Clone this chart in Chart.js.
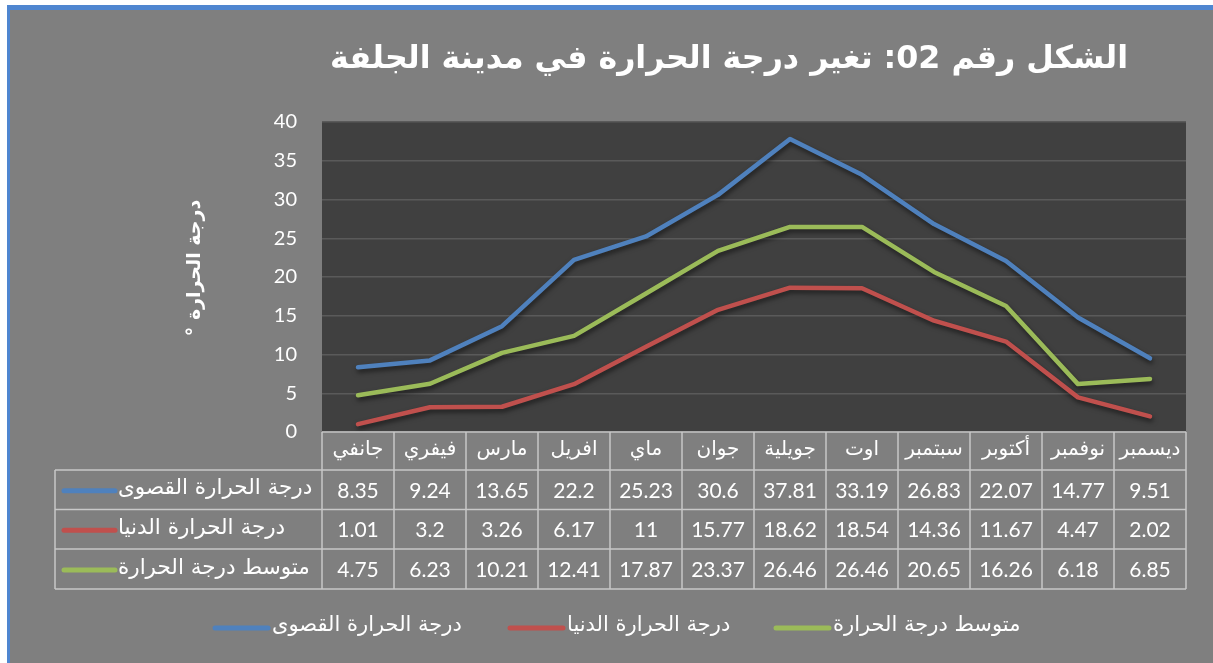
<!DOCTYPE html>
<html>
<head>
<meta charset="utf-8">
<script src="https://cdn.jsdelivr.net/npm/chart.js@4/dist/chart.umd.min.js"></script>
<style>
html,body{margin:0;padding:0;background:#fff;}
canvas{display:block;}
</style>
</head>
<body>
<canvas id="c" width="1213" height="663"></canvas>
<script>
const titleText = "الشكل رقم 02: تغير درجة الحرارة في مدينة الجلفة";
const yTitle = "درجة الحرارة °";
const months = ["جانفي","فيفري","مارس","افريل","ماي","جوان","جويلية","اوت","سبتمبر","أكتوبر","نوفمبر","ديسمبر"];
const seriesNames = ["درجة الحرارة القصوى","درجة الحرارة الدنيا","متوسط درجة الحرارة"];
const maxTemp = [8.35, 9.24, 13.65, 22.2, 25.23, 30.6, 37.81, 33.19, 26.83, 22.07, 14.77, 9.51];
const minTemp = [1.01, 3.2, 3.26, 6.17, 11, 15.77, 18.62, 18.54, 14.36, 11.67, 4.47, 2.02];
const avgTemp = [4.75, 6.23, 10.21, 12.41, 17.87, 23.37, 26.46, 26.46, 20.65, 16.26, 6.18, 6.85];
const colors = ["#4f81bd", "#c0504d", "#9bbb59"];

const NUMFONT = "Lato, 'Open Sans', 'DejaVu Sans', sans-serif";
const ARFONT = "'DejaVu Sans', sans-serif";

const frame = {
  id: 'frame',
  beforeDraw(chart) {
    const ctx = chart.ctx, W = chart.width, H = chart.height, a = chart.chartArea;
    ctx.save();
    ctx.fillStyle = '#ffffff'; ctx.fillRect(0,0,W,H);
    ctx.fillStyle = '#4f86d0'; ctx.fillRect(7,5,W-7,H-5);
    ctx.fillStyle = '#7f7f7f'; ctx.fillRect(10,10,W-10,H-10);
    ctx.fillStyle = '#404040'; ctx.fillRect(a.left, a.top, a.right-a.left, a.bottom-a.top);
    // title
    ctx.fillStyle = '#ffffff';
    ctx.direction = 'rtl';
    ctx.textAlign = 'center';
    ctx.textBaseline = 'middle';
    let fs = 34;
    ctx.font = 'bold ' + fs + 'px ' + ARFONT;
    const w = ctx.measureText(titleText).width;
    fs = Math.min(40, fs * 798 / w);
    ctx.font = 'bold ' + fs.toFixed(1) + 'px ' + ARFONT;
    ctx.fillText(titleText, 729, 60);
    // y title
    ctx.save();
    ctx.translate(195, 268);
    ctx.rotate(-Math.PI/2);
    ctx.font = 'bold 19px ' + ARFONT;
    ctx.fillText(yTitle, 0, 0);
    ctx.restore();
    ctx.restore();
  },
  beforeDatasetsDraw(chart) {
    const ctx = chart.ctx;
    ctx.save();
    ctx.shadowColor = 'rgba(0,0,0,0.55)';
    ctx.shadowBlur = 5;
    ctx.shadowOffsetX = 1;
    ctx.shadowOffsetY = 3;
  },
  afterDatasetsDraw(chart) {
    chart.ctx.restore();
  },
  afterDraw(chart) {
    const ctx = chart.ctx, a = chart.chartArea, xs = chart.scales.x;
    const n = months.length;
    const step = (a.right - a.left) / n;
    const rows = [a.bottom, 470, 509.5, 549, 589];
    const keyLeft = 55;
    ctx.save();
    ctx.strokeStyle = '#c8c8c8';
    ctx.lineWidth = 1.5;
    ctx.beginPath();
    ctx.moveTo(a.left, rows[0]); ctx.lineTo(a.right, rows[0]);
    for (let r = 1; r < rows.length; r++) { ctx.moveTo(keyLeft, rows[r]); ctx.lineTo(a.right, rows[r]); }
    ctx.moveTo(keyLeft, rows[1]); ctx.lineTo(keyLeft, rows[4]);
    for (let i = 0; i <= n; i++) {
      const x = i < n ? xs.getPixelForValue(i) - step/2 : xs.getPixelForValue(n-1) + step/2;
      ctx.moveTo(x, rows[0]); ctx.lineTo(x, rows[4]);
    }
    ctx.stroke();
    ctx.fillStyle = '#ffffff';
    ctx.textAlign = 'center';
    ctx.textBaseline = 'middle';
    ctx.direction = 'rtl';
    ctx.font = '20px ' + ARFONT;
    months.forEach((m, i) => ctx.fillText(m, xs.getPixelForValue(i), (rows[0]+rows[1])/2 - 1));
    ctx.direction = 'ltr';
    ctx.font = '21px ' + NUMFONT;
    chart.data.datasets.forEach((ds, r) => {
      const yc = (rows[r+1] + rows[r+2]) / 2 + 1;
      ds.data.forEach((v, i) => ctx.fillText(String(v), xs.getPixelForValue(i), yc));
      ctx.save();
      ctx.strokeStyle = ds.borderColor;
      ctx.lineWidth = 5;
      ctx.lineCap = 'round';
      ctx.beginPath(); ctx.moveTo(64, yc); ctx.lineTo(115, yc); ctx.stroke();
      ctx.restore();
      ctx.save();
      ctx.direction = 'rtl';
      ctx.textAlign = 'left';
      ctx.font = '21.5px ' + ARFONT;
      ctx.fillText(ds.label, 118, yc - 2);
      ctx.restore();
    });
    const lx = [213, 508, 774];
    chart.data.datasets.forEach((ds, r) => {
      const y = 628;
      ctx.save();
      ctx.strokeStyle = ds.borderColor;
      ctx.lineWidth = 5;
      ctx.lineCap = 'round';
      ctx.beginPath(); ctx.moveTo(lx[r]+2, y); ctx.lineTo(lx[r]+55, y); ctx.stroke();
      ctx.direction = 'rtl';
      ctx.textAlign = 'left';
      ctx.font = '21px ' + ARFONT;
      ctx.fillText(ds.label, lx[r] + 59, y - 2);
      ctx.restore();
    });
    ctx.restore();
  }
};

new Chart(document.getElementById('c'), {
  type: 'line',
  data: {
    labels: months,
    datasets: [
      { label: seriesNames[0], data: maxTemp, borderColor: colors[0] },
      { label: seriesNames[1], data: minTemp, borderColor: colors[1] },
      { label: seriesNames[2], data: avgTemp, borderColor: colors[2] }
    ].map(d => Object.assign(d, { borderWidth: 4.5, pointRadius: 0, tension: 0, fill: false, borderCapStyle: 'round', borderJoinStyle: 'round' }))
  },
  options: {
    responsive: false,
    animation: false,
    layout: { padding: { left: 0, right: 27, top: 122, bottom: 231 } },
    plugins: { legend: { display: false }, title: { display: false }, tooltip: { enabled: false } },
    scales: {
      x: { display: false, offset: true },
      y: {
        min: 0, max: 40,
        afterFit(s) { s.width = 322; },
        border: { display: false },
        grid: { color: '#5a5a5a', lineWidth: 1.5, drawTicks: false },
        ticks: { stepSize: 5, color: '#ffffff', padding: 25, font: { family: NUMFONT, size: 20 } }
      }
    }
  },
  plugins: [frame]
});
</script>
</body>
</html>
